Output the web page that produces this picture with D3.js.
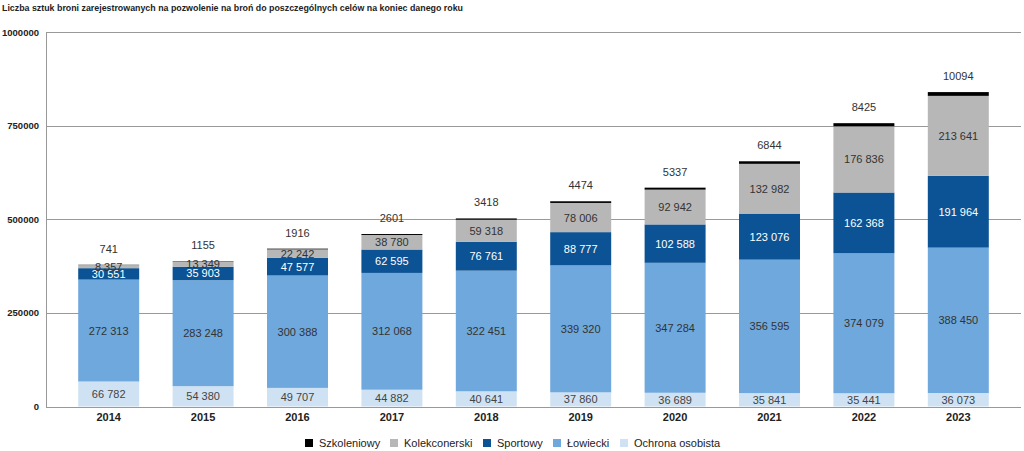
<!DOCTYPE html>
<html><head><meta charset="utf-8">
<script src="https://cdn.jsdelivr.net/npm/d3@7"></script>
<style>body{margin:0;background:#fff}svg{display:block;font-family:"Liberation Sans",Arial,sans-serif}</style>
</head><body><svg id="c" width="1024" height="451"></svg>
<script>
const years = ["2014","2015","2016","2017","2018","2019","2020","2021","2022","2023"];
const ochrona = [66782,54380,49707,44882,40641,37860,36689,35841,35441,36073];
const lowiecki = [272313,283248,300388,312068,322451,339320,347284,356595,374079,388450];
const sportowy = [30551,35903,47577,62595,76761,88777,102588,123076,162368,191964];
const kolekcjonerski = [8357,13349,22242,38780,59318,78006,92942,132982,176836,213641];
const szkoleniowy = [741,1155,1916,2601,3418,4474,5337,6844,8425,10094];
const yTicks = [0,250000,500000,750000,1000000];
const title = "Liczba sztuk broni zarejestrowanych na pozwolenie na broń do poszczególnych celów na koniec danego roku";

const series = [
  {key:"ochrona", name:"Ochrona osobista", values:ochrona, color:"#cfe2f3", text:"#444"},
  {key:"lowiecki", name:"Łowiecki", values:lowiecki, color:"#6fa8dc", text:"#333"},
  {key:"sportowy", name:"Sportowy", values:sportowy, color:"#0b5394", text:"#fff"},
  {key:"kolek", name:"Kolekconerski", values:kolekcjonerski, color:"#b7b7b7", text:"#333"},
  {key:"szkol", name:"Szkoleniowy", values:szkoleniowy, color:"#000000", text:"#333"}
];

const rows = years.map((y,i)=>{const o={year:y}; series.forEach(s=>o[s.key]=s.values[i]); return o;});
const stack = d3.stack().keys(series.map(s=>s.key))(rows);

const svg = d3.select("#c");
const x = d3.scaleBand().domain(years).range([61.5,1005.5]).paddingInner(0.354).paddingOuter(0.177);
const y = d3.scaleLinear().domain([0,1000000]).range([406.5,32.3]);
const fmt = v => d3.format(",")(v).replace(/,/g," ");

svg.append("text").attr("x",2).attr("y",11).attr("font-size",9.6).attr("font-weight","bold").attr("fill","#222")
  .attr("textLength",461).attr("lengthAdjust","spacingAndGlyphs").text(title);

// gridlines
svg.append("g").selectAll("line").data(yTicks).join("line")
  .attr("x1",46).attr("x2",1021).attr("y1",d=>Math.round(y(d))+0.5).attr("y2",d=>Math.round(y(d))+0.5)
  .attr("stroke","#999").attr("stroke-width",1);
svg.append("line").attr("x1",46.5).attr("x2",46.5).attr("y1",Math.round(y(1000000))+0.5).attr("y2",Math.round(y(0))+0.5).attr("stroke","#999");
svg.append("g").selectAll("text").data(yTicks).join("text")
  .attr("x",39).attr("y",d=>y(d)+3.5).attr("text-anchor","end").attr("font-size",9.5).attr("font-weight","bold").attr("fill","#222")
  .text(d=>d);

// bars
stack.forEach((layer,li)=>{
  const s = series[li];
  svg.append("g").selectAll("rect").data(layer).join("rect")
    .attr("x",d=>x(d.data.year)).attr("width",x.bandwidth())
    .attr("y",d=>y(d[1])).attr("height",d=>y(d[0])-y(d[1]))
    .attr("fill",s.color);
});
// segment labels
stack.forEach((layer,li)=>{
  const s = series[li];
  if (s.key==="szkol") {
    svg.append("g").selectAll("text").data(layer).join("text")
      .attr("x",d=>x(d.data.year)+x.bandwidth()/2).attr("y",d=>y(d[1])-12)
      .attr("text-anchor","middle").attr("font-size",11).attr("fill","#333").text(d=>d[1]-d[0]);
  } else {
    svg.append("g").selectAll("text").data(layer).join("text")
      .attr("x",d=>x(d.data.year)+x.bandwidth()/2).attr("y",d=>(y(d[0])+y(d[1]))/2+4)
      .attr("text-anchor","middle").attr("font-size",11).attr("fill",s.text).text(d=>fmt(d[1]-d[0]));
  }
});

// x labels
svg.append("g").selectAll("text").data(years).join("text")
  .attr("x",d=>x(d)+x.bandwidth()/2).attr("y",421).attr("text-anchor","middle")
  .attr("font-size",11).attr("font-weight","bold").attr("fill","#222").text(d=>d);

// legend
const legendOrder = [...series].reverse();
const lx = [305,390,483,553,620];
const lg = svg.append("g").selectAll("g").data(legendOrder).join("g").attr("transform",(d,i)=>`translate(${lx[i]},443)`);
lg.append("rect").attr("x",0).attr("y",-4).attr("width",8).attr("height",8).attr("fill",d=>d.color);
lg.append("text").attr("x",14).attr("y",4).attr("font-size",11).attr("fill","#222").text(d=>d.name);
</script></body></html>
